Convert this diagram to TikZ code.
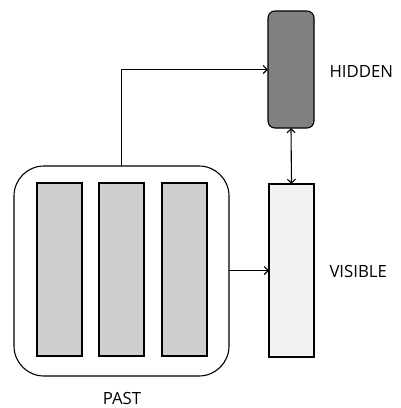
\documentclass[tikz,border=0pt]{standalone}
\usepackage{fontspec}
\setmainfont{Open Sans}
\usetikzlibrary{arrows.meta}
\definecolor{hidfill}{RGB}{128,128,128}
\definecolor{visfill}{RGB}{242,242,242}
\definecolor{pastfill}{RGB}{208,206,209}
\begin{document}
\begin{tikzpicture}[x=1pt,y=-1pt,
  line width=1.1pt,
  every node/.style={inner sep=0pt, outer sep=0pt},
  conn/.style={-{Straight Barb[length=4pt,width=8pt]}},
  dconn/.style={{Straight Barb[length=4pt,width=8pt]}-{Straight Barb[length=4pt,width=8pt]}},
  txt/.style={font=\fontsize{16.8}{19}\selectfont},
  lbl/.style={txt, anchor=west},
  slot/.style={draw, fill=pastfill, minimum width=45pt, minimum height=173pt}]
\useasboundingbox (0,0) rectangle (401,408);
% past container and its three slots
\node[draw, rounded corners=30pt, minimum width=215pt, minimum height=210pt] (past) at (121.5,271) {};
\node[slot] (s1) at (59.5,269.5) {};
\node[slot] (s2) at (121.5,269.5) {};
\node[slot] (s3) at (184.5,269.5) {};
\node[txt] (pastlbl) at (122,398.5) {PAST};
% hidden and visible layers
\node[draw, fill=hidfill, rounded corners=7pt, minimum width=46pt, minimum height=117pt] (hid) at (291,69.5) {};
\node[draw, fill=visfill, minimum width=45pt, minimum height=173pt] (vis) at (291.5,270.5) {};
\node[lbl] (hidlbl) at (329.5,71.5) {HIDDEN};
\node[lbl] (vislbl) at (329.5,271) {VISIBLE};
% connectors
\draw[conn] (past.north) |- (hid.west);
\draw[conn] (past.east |- vis.west) -- (vis.west);
\draw[dconn] (hid.south) -- (vis.north);
\end{tikzpicture}
\end{document}
